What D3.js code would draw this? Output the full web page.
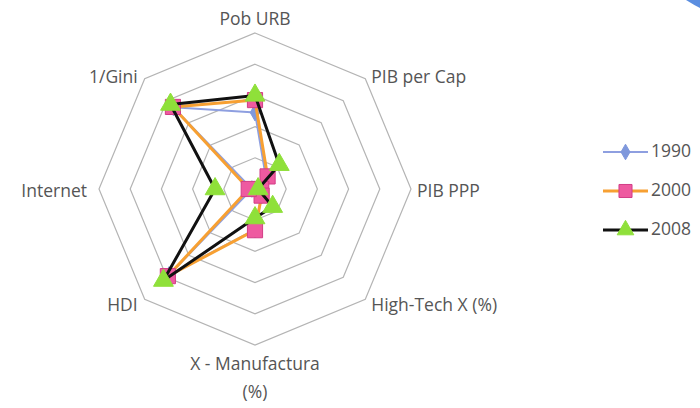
<!DOCTYPE html>
<html>
<head>
<meta charset="utf-8">
<script src="https://cdn.jsdelivr.net/npm/d3@7"></script>
<style>
  html, body { margin: 0; padding: 0; background: #fff; }
  svg { display: block; }
  text { font-family: "Open Sans", "Liberation Sans", sans-serif; fill: #555555; }
</style>
</head>
<body>
<svg id="chart" width="700" height="408"></svg>
<script>
// Indicator axes, clockwise from the top
const axes = ["Pob URB", "PIB per Cap", "PIB PPP", "High-Tech X (%)",
              "X - Manufactura (%)", "HDI", "Internet", "1/Gini"];

// Values per year, same order as the axes
const years = ["1990", "2000", "2008"];
const values1990 = [2.45, 0.5, 0.2, 0.3, 1.3, 3.9, 0.1, 3.7];
const values2000 = [2.85, 0.57, 0.2, 0.3, 1.32, 3.95, 0.2, 3.72];
const values2008 = [3.0, 1.1, 0.1, 0.8, 0.93, 4.15, 1.28, 3.83];

// Ring levels of the grid
const ringLevels = [1, 2, 3, 4, 5];

const svg = d3.select("#chart");
const cx = 255, cy = 189, R = 156;

const r = d3.scaleLinear().domain([0, 5]).range([0, R]);
const angle = d3.scalePoint().domain(axes).range([0, 2 * Math.PI * (axes.length - 1) / axes.length]);

const pt = (axis, v) => {
  const a = angle(axis);
  return [cx + r(v) * Math.sin(a), cy - r(v) * Math.cos(a)];
};

// corner decoration in the top right
svg.append("path")
  .attr("d", "M686,0 Q694,5 700,8 L700,0 Z")
  .attr("fill", "#5b8ee0");

// octagonal grid
const g = svg.append("g");
ringLevels.forEach(lv => {
  g.append("path")
    .attr("d", d3.line()(axes.map(a => pt(a, lv))) + "Z")
    .attr("fill", "none")
    .attr("stroke", "#b4b4b4")
    .attr("stroke-width", 1.2);
});

// axis labels
axes.forEach(a => {
  const [vx, vy] = pt(a, 5);
  const s = Math.sin(angle(a)), c = Math.cos(angle(a));
  let x = vx, y = vy, anchor = "middle";
  if (s > 0.1) { anchor = "start"; x += 6; }
  if (s < -0.1) { anchor = "end"; x -= (Math.abs(c) < 0.1 ? 12 : 7); }
  if (c > 0.9) y -= 13;
  else if (c > 0.1) y -= 1;
  else if (c < -0.9) y += 20;
  else if (c < -0.1) y += 7;
  else y += 3;
  const parts = a === "X - Manufactura (%)" ? ["X - Manufactura", "(%)"] : [a];
  const t = svg.append("text")
    .attr("x", x).attr("y", y)
    .attr("text-anchor", anchor)
    .attr("dominant-baseline", "middle")
    .style("font-size", "17.5px");
  parts.forEach((p, i) => {
    t.append("tspan").attr("x", x).attr("dy", i === 0 ? 0 : 28).text(p);
  });
});

// series styles
const series = [
  { name: years[0], vals: values1990, line: "#8e9fe0", lw: 2, marker: "diamond", fill: "#7f98dc", edge: "#7f98dc" },
  { name: years[1], vals: values2000, line: "#f7a032", lw: 3, marker: "square", fill: "#ee5aa0", edge: "#d23d86" },
  { name: years[2], vals: values2008, line: "#111111", lw: 3, marker: "triangle", fill: "#8fe03a", edge: "#8fe03a" }
];

const symbolOf = m => m === "diamond" ? d3.symbolDiamond : m === "square" ? d3.symbolSquare : d3.symbolTriangle;
const sizeOf = m => m === "diamond" ? 80 : m === "square" ? 230 : 170;
const legSizeOf = m => m === "diamond" ? 70 : m === "square" ? 170 : 120;

series.forEach(sr => {
  const pts = axes.map((a, i) => pt(a, sr.vals[i]));
  svg.append("path")
    .attr("d", d3.line()(pts) + "Z")
    .attr("fill", "none")
    .attr("stroke", sr.line)
    .attr("stroke-width", sr.lw)
    .attr("stroke-linejoin", "round");
  svg.selectAll(null).data(pts).enter().append("path")
    .attr("transform", d => `translate(${d[0]},${d[1]})`)
    .attr("d", d3.symbol().type(symbolOf(sr.marker)).size(sizeOf(sr.marker)))
    .attr("fill", sr.fill)
    .attr("stroke", sr.edge)
    .attr("stroke-width", 1);
});

// legend
const legY = d3.scalePoint().domain(years).range([152, 230]);
series.forEach(sr => {
  const y = legY(sr.name);
  svg.append("line")
    .attr("x1", 603).attr("x2", 648).attr("y1", y).attr("y2", y)
    .attr("stroke", sr.line).attr("stroke-width", sr.lw);
  svg.append("path")
    .attr("transform", `translate(625.5,${y})`)
    .attr("d", d3.symbol().type(symbolOf(sr.marker)).size(legSizeOf(sr.marker)))
    .attr("fill", sr.fill).attr("stroke", sr.edge);
  svg.append("text")
    .attr("x", 651).attr("y", y)
    .attr("dominant-baseline", "middle")
    .style("font-size", "17.5px")
    .text(sr.name);
});
</script>
</body>
</html>
